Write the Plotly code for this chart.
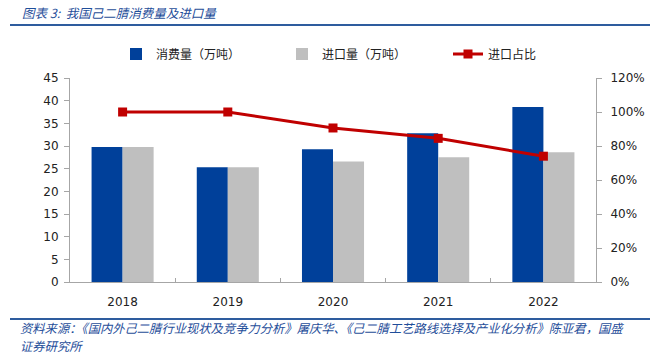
import plotly.graph_objects as go

years = ["2018", "2019", "2020", "2021", "2022"]
consumption = [29.8, 25.3, 29.3, 32.8, 38.6]
imports = [29.8, 25.3, 26.6, 27.5, 28.6]
import_ratio = [1.00, 1.00, 0.906, 0.845, 0.74]

W, H = 660, 359
L, R, T, B = 70, 64, 78, 77
PW, PH = W - L - R, H - T - B

def px(x):
    return (x - L) / PW

def py(y):
    return (H - B - y) / PH

fig = go.Figure()
fig.add_trace(go.Bar(x=years, y=consumption, name="消费量（万吨）",
                     marker=dict(color="#00409A", line=dict(width=0))))
fig.add_trace(go.Bar(x=years, y=imports, name="进口量（万吨）",
                     marker=dict(color="#BFBFBF", line=dict(width=0))))
fig.add_trace(go.Scatter(x=years, y=import_ratio, name="进口占比", yaxis="y2",
                         mode="lines+markers",
                         line=dict(color="#C00000", width=3),
                         marker=dict(symbol="square", size=9, color="#C00000")))

tickfont = dict(family="DejaVu Sans", size=12, color="#222")
fig.update_layout(
    width=W, height=H,
    margin=dict(l=L, r=R, t=T, b=B, autoexpand=False),
    paper_bgcolor="white", plot_bgcolor="white",
    barmode="group", bargap=0.41, bargroupgap=0,
    showlegend=True,
    legend=dict(orientation="h", xref="container", yref="container",
                x=116 / W, y=1 - 54 / H, xanchor="left", yanchor="middle",
                font=dict(family="Noto Sans CJK SC", size=12, color="#222"),
                entrywidth=121, entrywidthmode="pixels", itemwidth=30,
                bgcolor="rgba(0,0,0,0)", tracegroupgap=0),
    xaxis=dict(showline=True, linecolor="#A6A6A6", linewidth=1, ticks="inside",
               tickson="boundaries", ticklen=4, tickcolor="#A6A6A6", ticklabelstandoff=9,
               tickfont=tickfont, showgrid=False),
    yaxis=dict(range=[0, 45], dtick=5, showline=True, linecolor="#A6A6A6", linewidth=1,
               ticks="outside", ticklen=5, tickcolor="#A6A6A6", showgrid=False,
               ticklabelstandoff=3, tickfont=tickfont, zeroline=False),
    yaxis2=dict(range=[0, 1.2], dtick=0.2, tickformat=".0%", overlaying="y", side="right",
                showline=True, linecolor="#A6A6A6", linewidth=1,
                ticks="outside", ticklen=5, tickcolor="#A6A6A6", showgrid=False,
                ticklabelstandoff=6, tickfont=tickfont, zeroline=False),
)

srcfont = dict(family="Noto Sans CJK SC", size=12.3, color="#1F4E9A", style="italic")
fig.add_annotation(text="图表 3:  我国己二腈消费量及进口量", xref="paper", yref="paper",
                   x=px(20), y=py(12), xanchor="left", yanchor="middle", showarrow=False,
                   font=dict(family="Noto Sans CJK SC", size=12.5, color="#1F4E9A", style="italic"))
fig.add_annotation(text="资料来源：《国内外己二腈行业现状及竞争力分析》屠庆华、《己二腈工艺路线选择及产业化分析》陈亚君，国盛",
                   xref="paper", yref="paper", x=px(18), y=py(327.5), xanchor="left", yanchor="middle",
                   showarrow=False, font=srcfont)
fig.add_annotation(text="证券研究所",
                   xref="paper", yref="paper", x=px(18), y=py(346), xanchor="left", yanchor="middle",
                   showarrow=False, font=srcfont)
for yline in (25, 319):
    fig.add_shape(type="line", xref="paper", yref="paper", x0=px(10), x1=px(650),
                  y0=py(yline), y1=py(yline), line=dict(color="#2E5C9E", width=2))

fig.write_html("out.html", config={"displayModeBar": False},
               post_script="document.body.style.margin='0';")
